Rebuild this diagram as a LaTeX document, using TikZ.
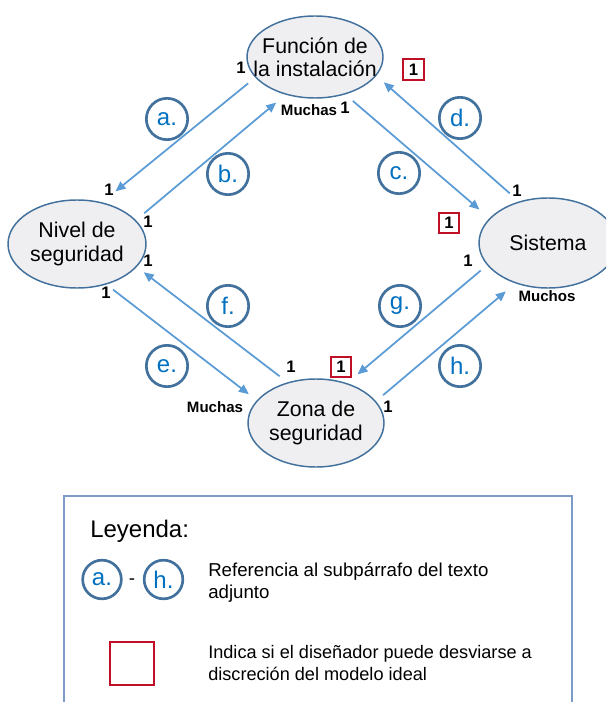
\documentclass[tikz,border=0pt]{standalone}
\usepackage{fontspec}
\setmainfont{Liberation Sans}
\usetikzlibrary{shapes.geometric,arrows.meta}

\definecolor{entfill}{RGB}{239,239,242}
\definecolor{entline}{RGB}{65,113,156}
\definecolor{flow}{RGB}{91,155,213}
\definecolor{refline}{RGB}{65,113,156}
\definecolor{reftext}{RGB}{0,112,192}
\definecolor{optred}{RGB}{192,16,40}
\definecolor{legline}{RGB}{125,155,200}

\begin{document}
\begin{tikzpicture}[x=0.75pt,y=-0.75pt,
  entity/.style={ellipse, draw=entline, fill=entfill, line width=1.1pt, inner sep=0pt},
  etext/.style={align=center, font=\fontsize{16}{17.5}\selectfont, text=black},
  flowarrow/.style={draw=flow, line width=1.3pt, -{Triangle[length=7.5pt,width=6.5pt]}},
  refmark/.style={circle, draw=refline, line width=2pt, minimum size=31pt, inner sep=0pt,
    text=reftext, font=\fontsize{18}{18}\selectfont},
  mult/.style={font=\bfseries\fontsize{12.5}{12.5}\selectfont, inner sep=0pt},
  multsmall/.style={font=\bfseries\fontsize{11.3}{11.3}\selectfont, inner sep=0pt},
  optbox/.style={draw=optred, line width=1.3pt, minimum size=15.5pt, inner sep=0pt,
    font=\bfseries\fontsize{12.5}{12.5}\selectfont},
  legtext/.style={anchor=base west, align=left, font=\fontsize{14}{16}\selectfont, inner sep=0pt},
]
\useasboundingbox (0,0) rectangle (606,702);
\clip (0,0) rectangle (606,702);

% entities
\node[entity, minimum width=102pt, minimum height=61.5pt,
  label={[etext]center:Función de\\la instalación}] (fun) at (315,57) {};
\node[entity, minimum width=103.5pt, minimum height=66pt,
  label={[etext]center:Nivel de\\seguridad}] (niv) at (77,244) {};
\node[entity, minimum width=103.5pt, minimum height=67.5pt,
  label={[etext]center:Sistema}] (sis) at (548,243) {};
\node[entity, minimum width=102pt, minimum height=66pt,
  label={[etext]center:Zona de\\seguridad}] (zon) at (316,423) {};

% relations
\draw[flowarrow, shorten <=6.8pt, shorten >=13pt] (fun.199) -- (niv.59);
\draw[flowarrow, shorten <=8.1pt, shorten >=9.2pt] (niv.22.7) -- (fun.232.4);
\draw[flowarrow, shorten <=7.4pt, shorten >=9.9pt] (fun.309.9) -- (sis.157.2);
\draw[flowarrow, shorten <=9.2pt, shorten >=7.4pt] (sis.125.2) -- (fun.343);
\draw[flowarrow, shorten <=6.3pt, shorten >=7.5pt] (niv.306.5) -- (zon.159.8);
\draw[flowarrow, shorten <=7.4pt, shorten >=6.5pt] (zon.125.2) -- (niv.339);
\draw[flowarrow, shorten <=6.2pt, shorten >=10.2pt] (sis.200.8) -- (zon.52.2);
\draw[flowarrow, shorten <=7pt, shorten >=9.3pt] (zon.20.5) -- (sis.231.9);

% paragraph references
\node[refmark] (ra) at (167,119) {a.};
\node[refmark] (rb) at (228,174) {b.};
\node[refmark] (rc) at (399,173) {c.};
\node[refmark] (rd) at (460,118) {d.};
\node[refmark] (re) at (167,366) {e.};
\node[refmark] (rf) at (228,306) {f.};
\node[refmark] (rg) at (400,306) {g.};
\node[refmark] (rh) at (460,366) {h.};

% multiplicities
\node[mult] (m1) at (241,68) {1};
\node[multsmall] (m2) at (309,110) {Muchas};
\node[mult] (m3) at (345,108) {1};
\node[optbox] (o1) at (413.5,69.5) {1};
\node[mult] (m4) at (109,190) {1};
\node[mult] (m5) at (148,222) {1};
\node[mult] (m6) at (148,261) {1};
\node[mult] (m7) at (106,293) {1};
\node[mult] (m8) at (517,191) {1};
\node[optbox] (o2) at (449,223) {1};
\node[mult] (m9) at (468,261) {1};
\node[multsmall] (m10) at (547,296) {Muchos};
\node[mult] (m11) at (291,367) {1};
\node[optbox] (o3) at (341,367) {1};
\node[multsmall] (m12) at (215,407) {Muchas};
\node[mult] (m13) at (388,407) {1};

% legend
\draw[legline, line width=0.9pt] (64,496) rectangle (572,720);
\node[anchor=base west, inner sep=0pt, font=\fontsize{18}{18}\selectfont] (lt) at (90,537) {Leyenda:};
\node[refmark, minimum size=29pt] (la) at (102,579.5) {a.};
\node[refmark, minimum size=29pt] (lh) at (163.5,579.5) {h.};
\node[inner sep=0pt, font=\fontsize{14}{14}\selectfont] (ld) at (132,582) {-};
\node[legtext] (l1) at (208,598) {Referencia al subpárrafo del texto\\adjunto};
\node[draw=optred, line width=1.3pt, minimum width=32.5pt, minimum height=32pt, inner sep=0pt] (lbox) at (132,663.5) {};
\node[legtext, font=\fontsize{13.6}{16}\selectfont] (l2) at (208,680) {Indica si el diseñador puede desviarse a\\discreción del modelo ideal};
\end{tikzpicture}
\end{document}
